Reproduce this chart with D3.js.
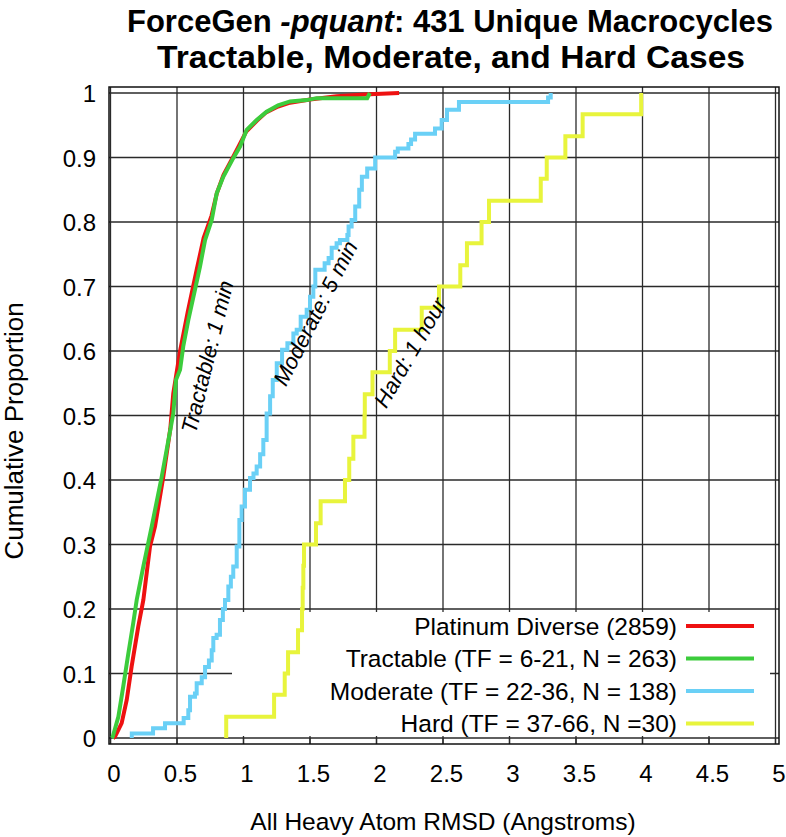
<!DOCTYPE html>
<html>
<head>
<meta charset="utf-8">
<script src="https://cdn.jsdelivr.net/npm/d3@7"></script>
<style>
  body { margin: 0; background: #fff; }
  text { font-family: "Liberation Sans", Arial, sans-serif; fill: #000; }
</style>
</head>
<body>
<div id="chart"></div>
<script>
// Define SVG area dimensions
var svgWidth = 786;
var svgHeight = 837;

// Axis ticks
var xTicks = [0, 0.5, 1, 1.5, 2, 2.5, 3, 3.5, 4, 4.5, 5];
var xTickLabels = ["0", "0.5", "1", "1.5", "2", "2.5", "3", "3.5", "4", "4.5", "5"];
var yTicks = [0, 0.1, 0.2, 0.3, 0.4, 0.5, 0.6, 0.7, 0.8, 0.9, 1];
var yTickLabels = ["0", "0.1", "0.2", "0.3", "0.4", "0.5", "0.6", "0.7", "0.8", "0.9", "1"];

// Cumulative curves: [RMSD, cumulative proportion]
var platinumCdf = [[0.02, 0], [0.034, 0.002], [0.084, 0.023], [0.122, 0.059], [0.159, 0.111],
  [0.209, 0.173], [0.247, 0.214], [0.297, 0.297], [0.335, 0.328], [0.397, 0.405], [0.45, 0.48],
  [0.472, 0.534], [0.523, 0.6], [0.58, 0.66], [0.648, 0.726], [0.70, 0.775], [0.76, 0.81],
  [0.80, 0.845], [0.85, 0.873], [0.92, 0.90], [0.97, 0.92], [1.02, 0.94], [1.10, 0.957],
  [1.17, 0.97], [1.26, 0.979], [1.35, 0.985], [1.5, 0.99], [1.7, 0.995], [1.95, 0.998], [2.17, 1.0]];

var tractableCdf = [[0.01, 0], [0.017, 0.002], [0.059, 0.033], [0.096, 0.080], [0.134, 0.131],
  [0.171, 0.178], [0.197, 0.214], [0.247, 0.266], [0.31, 0.328], [0.385, 0.405], [0.45, 0.478],
  [0.472, 0.503], [0.492, 0.555], [0.523, 0.571], [0.547, 0.607], [0.585, 0.648], [0.635, 0.695],
  [0.673, 0.731], [0.711, 0.772], [0.761, 0.803], [0.798, 0.844], [0.848, 0.870], [0.923, 0.899],
  [0.974, 0.917], [1.024, 0.943], [1.099, 0.958], [1.174, 0.971], [1.26, 0.981], [1.35, 0.987],
  [1.475, 0.989], [1.55, 0.992], [1.93, 0.992], [1.95, 1.0]];

// Step curves: at each RMSD the proportion jumps to the given value
var moderateCdf = [[0.16, 0], [0.16, 0.007], [0.32, 0.015], [0.41, 0.023], [0.55, 0.031],
  [0.585, 0.043], [0.598, 0.064], [0.635, 0.069], [0.648, 0.085], [0.686, 0.094], [0.711, 0.11],
  [0.74, 0.12], [0.761, 0.136], [0.773, 0.155], [0.798, 0.16], [0.823, 0.183], [0.845, 0.2],
  [0.861, 0.214], [0.886, 0.235], [0.905, 0.25], [0.923, 0.266], [0.949, 0.297], [0.969, 0.338],
  [0.986, 0.359], [1.011, 0.385], [1.049, 0.403], [1.075, 0.41], [1.099, 0.421], [1.125, 0.44],
  [1.149, 0.462], [1.174, 0.503], [1.20, 0.53], [1.22, 0.555], [1.25, 0.581], [1.29, 0.602],
  [1.33, 0.612], [1.375, 0.627], [1.40, 0.633], [1.43, 0.653], [1.475, 0.664], [1.50, 0.684],
  [1.525, 0.70], [1.54, 0.726], [1.61, 0.736], [1.64, 0.744], [1.663, 0.76], [1.70, 0.767],
  [1.725, 0.772], [1.781, 0.78], [1.79, 0.793], [1.813, 0.803], [1.84, 0.824], [1.87, 0.85],
  [1.89, 0.87], [1.93, 0.883], [1.99, 0.9], [2.14, 0.909], [2.16, 0.914], [2.24, 0.921],
  [2.26, 0.928], [2.29, 0.937], [2.44, 0.945], [2.49, 0.958], [2.53, 0.974], [2.62, 0.986],
  [3.29, 0.993], [3.31, 1.0]];

var hardCdf = [[0.87, 0], [0.87, 0.033], [1.23, 0.067], [1.31, 0.1], [1.335, 0.133], [1.41, 0.167],
  [1.44, 0.2], [1.445, 0.233], [1.45, 0.267], [1.455, 0.3], [1.545, 0.333], [1.58, 0.367],
  [1.763, 0.4], [1.795, 0.433], [1.826, 0.467], [1.91, 0.5], [1.912, 0.533], [1.97, 0.567],
  [2.10, 0.6], [2.14, 0.633], [2.34, 0.667], [2.47, 0.7], [2.63, 0.733], [2.68, 0.767],
  [2.79, 0.8], [2.846, 0.833], [3.235, 0.867], [3.28, 0.9], [3.42, 0.933], [3.55, 0.967], [3.99, 1.0]];

// Legend and labels
var legendLabels = ["Platinum Diverse (2859)", "Tractable (TF = 6-21, N = 263)",
  "Moderate (TF = 22-36, N = 138)", "Hard (TF = 37-66, N =30)"];
var seriesColors = ["#ee1111", "#3ccc3c", "#6ad0f6", "#e8f43c"];
var annotationLabels = ["Tractable: 1 min", "Moderate: 5 min", "Hard: 1 hour"];

// Plot area (data range) and the frame around it
var plot = { left: 110.5, right: 775.5, top: 93, bottom: 738 };
var frame = { left: 109, right: 779, top: 87, bottom: 744 };

var svg = d3.select("#chart")
  .append("svg")
  .attr("width", svgWidth)
  .attr("height", svgHeight);

var x = d3.scaleLinear().domain([0, 5]).range([plot.left, plot.right]);
var y = d3.scaleLinear().domain([0, 1]).range([plot.bottom, plot.top]);

// Grid lines
var grid = svg.append("g").attr("class", "grid");
grid.selectAll("line.v")
  .data(xTicks)
  .enter().append("line")
  .attr("x1", d => x(d)).attr("x2", d => x(d))
  .attr("y1", frame.top).attr("y2", frame.bottom);
grid.selectAll("line.h")
  .data(yTicks)
  .enter().append("line")
  .attr("y1", d => y(d)).attr("y2", d => y(d))
  .attr("x1", frame.left).attr("x2", frame.right);
grid.selectAll("line")
  .attr("stroke", "#2a2a2a")
  .attr("stroke-width", 1.3);

// Opaque key box hides the grid behind the legend
svg.append("rect")
  .attr("x", 232).attr("y", 612)
  .attr("width", 770 - 232).attr("height", 736 - 612)
  .attr("fill", "#fff");

// Inward ticks on the bottom border
svg.append("g").selectAll("line")
  .data(xTicks)
  .enter().append("line")
  .attr("x1", d => x(d)).attr("x2", d => x(d))
  .attr("y1", frame.bottom).attr("y2", frame.bottom - 6)
  .attr("stroke", "#2a2a2a")
  .attr("stroke-width", 1.3);

// Curves
var line = d3.line().x(d => x(d[0])).y(d => y(d[1]));
var stepLine = d3.line().x(d => x(d[0])).y(d => y(d[1])).curve(d3.curveStepAfter);

var curves = [
  { data: platinumCdf, gen: line },
  { data: tractableCdf, gen: line },
  { data: moderateCdf, gen: stepLine },
  { data: hardCdf, gen: stepLine }
];
curves.forEach((c, i) => {
  svg.append("path")
    .attr("d", c.gen(c.data))
    .attr("fill", "none")
    .attr("stroke", seriesColors[i])
    .attr("stroke-width", 4)
    .attr("stroke-linejoin", "miter");
});

// Frame
svg.append("rect")
  .attr("x", frame.left).attr("y", frame.top)
  .attr("width", frame.right - frame.left)
  .attr("height", frame.bottom - frame.top)
  .attr("fill", "none")
  .attr("stroke", "#111")
  .attr("stroke-width", 1.5);

// Tick labels
var xAxis = svg.append("g")
  .attr("transform", `translate(3,${frame.bottom})`)
  .call(d3.axisBottom(x).tickValues(xTicks).tickSize(0).tickPadding(21)
    .tickFormat((d, i) => xTickLabels[i]));
var yAxis = svg.append("g")
  .attr("transform", `translate(${frame.left},0)`)
  .call(d3.axisLeft(y).tickValues(yTicks).tickSize(0).tickPadding(13)
    .tickFormat((d, i) => yTickLabels[i]));
[xAxis, yAxis].forEach(a => {
  a.select(".domain").remove();
  a.selectAll("text")
    .attr("font-family", "'Liberation Sans', Arial, sans-serif")
    .attr("font-size", 24)
    .attr("fill", "#000");
});
yAxis.selectAll("text").attr("dy", "0.36em");

// Axis titles
svg.append("text")
  .attr("x", 443).attr("y", 830)
  .attr("text-anchor", "middle")
  .attr("font-size", 24.5)
  .text("All Heavy Atom RMSD (Angstroms)");
svg.append("text")
  .attr("transform", "translate(14,431) rotate(-90)")
  .attr("text-anchor", "middle")
  .attr("dy", "0.36em")
  .attr("font-size", 26)
  .text("Cumulative Proportion");

// Title, two lines
var title1 = svg.append("text")
  .attr("x", 450).attr("y", 32)
  .attr("text-anchor", "middle")
  .attr("font-weight", "bold")
  .attr("font-size", 31);
title1.append("tspan").text("ForceGen ");
title1.append("tspan").attr("font-style", "italic").text("-pquant");
title1.append("tspan").text(": 431 Unique Macrocycles");
svg.append("text")
  .attr("x", 451).attr("y", 68)
  .attr("text-anchor", "middle")
  .attr("font-weight", "bold")
  .attr("font-size", 31)
  .attr("textLength", 588)
  .attr("lengthAdjust", "spacingAndGlyphs")
  .text("Tractable, Moderate, and Hard Cases");

// Rotated annotations next to each curve
var annotationPos = [
  { x: 0.726, y: 0.591, angle: -76 },
  { x: 1.538, y: 0.659, angle: -63 },
  { x: 2.252, y: 0.598, angle: -60 }
];
annotationLabels.forEach((label, i) => {
  var p = annotationPos[i];
  svg.append("text")
    .attr("transform", `translate(${x(p.x)},${y(p.y)}) rotate(${p.angle})`)
    .attr("text-anchor", "middle")
    .attr("dy", "0.36em")
    .attr("font-size", 22)
    .attr("font-style", "italic")
    .text(label);
});

// Legend
var legendRowY = [626, 658.5, 691, 723.5];
var legend = svg.append("g").attr("class", "legend");
legendLabels.forEach((label, i) => {
  legend.append("text")
    .attr("x", 677).attr("y", legendRowY[i])
    .attr("dy", "0.36em")
    .attr("text-anchor", "end")
    .attr("font-size", 24.5)
    .text(label);
  legend.append("line")
    .attr("x1", 686).attr("x2", 754)
    .attr("y1", legendRowY[i]).attr("y2", legendRowY[i])
    .attr("stroke", seriesColors[i])
    .attr("stroke-width", 4);
});
</script>
</body>
</html>
